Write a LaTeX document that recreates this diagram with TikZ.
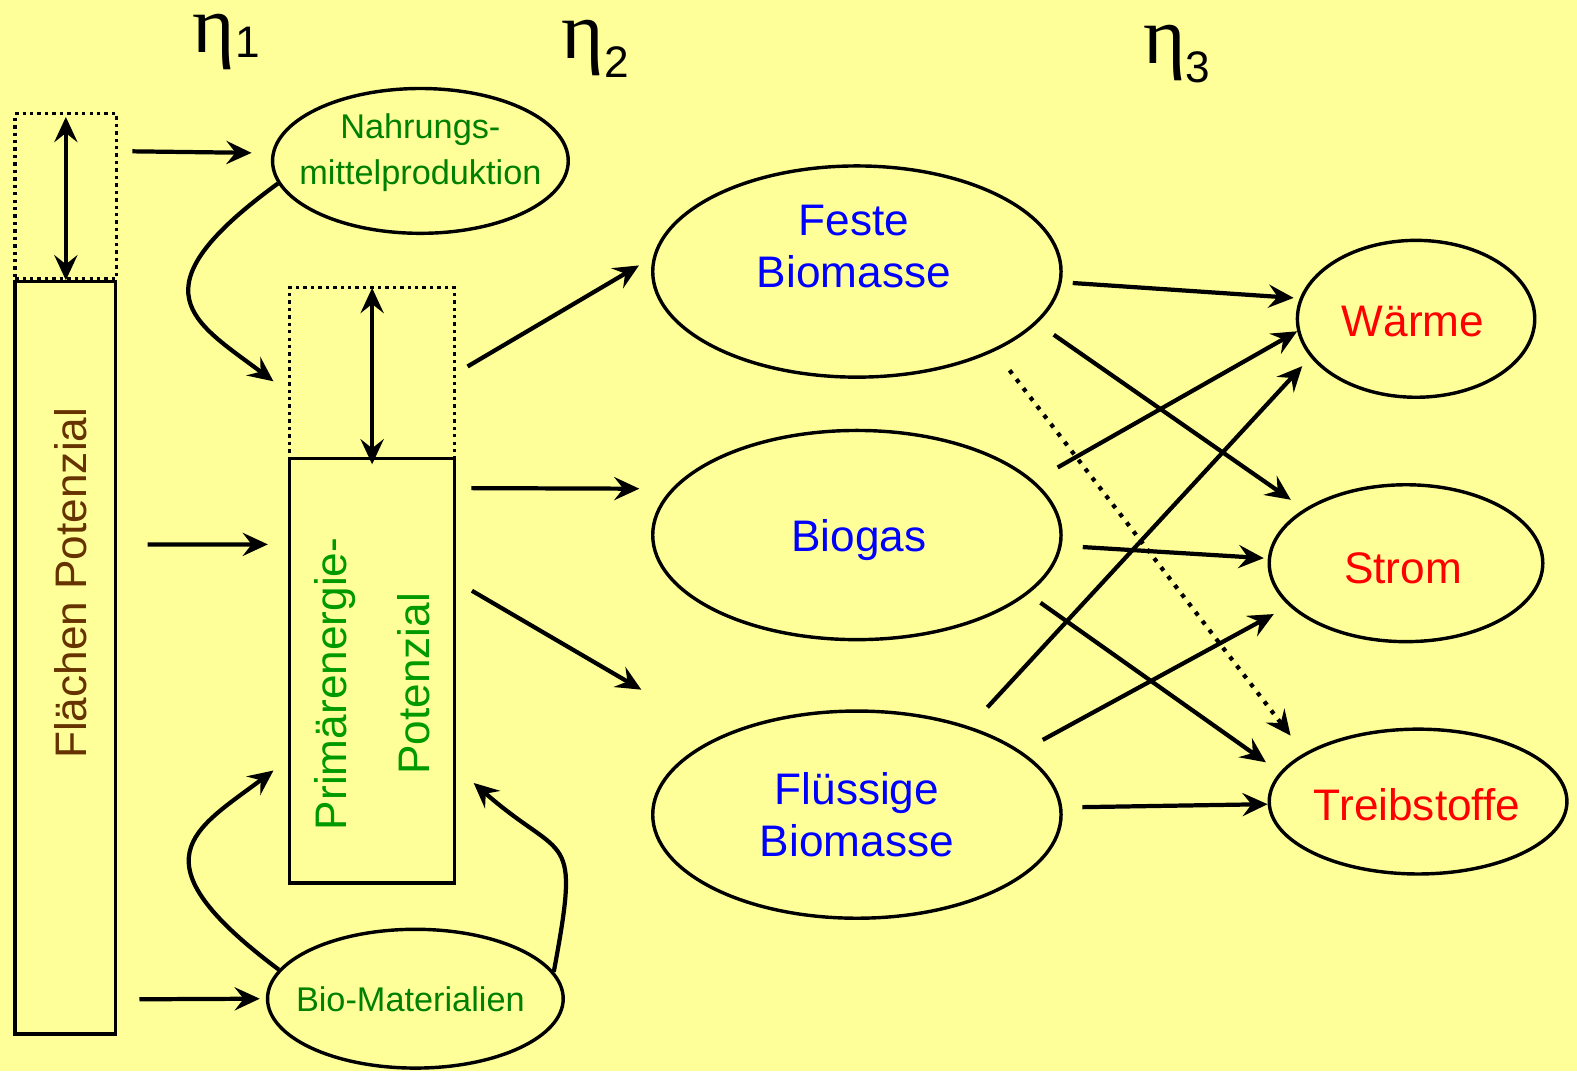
\documentclass[tikz,border=0pt]{standalone}
\usepackage{fontspec}
\setmainfont{Liberation Sans}
\newfontfamily\etafont{Liberation Serif}
\usetikzlibrary{arrows.meta,shapes.geometric,positioning}
\definecolor{PaleYellow}{RGB}{255,255,153}
\definecolor{LeafGreen}{RGB}{0,128,0}
\definecolor{GrassGreen}{RGB}{0,153,0}
\definecolor{SoilBrown}{RGB}{102,51,0}
\newcommand{\etasub}[2]{{\etafont\fontsize{23}{23}\selectfont η}\raisebox{#2}{\fontsize{12.5}{12.5}\selectfont #1}}

\begin{document}
\begin{tikzpicture}[x=0.1mm,y=-0.1mm,
  >={Stealth[length=2.5mm,width=2.3mm,inset=0.9mm]},
  flow/.style={->,line width=0.42mm},
  oval/.style={draw,ellipse,line width=0.34mm,inner sep=0pt},
  potbox/.style={draw,rectangle,line width=0.34mm,inner sep=0pt},
  gapbox/.style={draw,rectangle,line width=0.34mm,inner sep=0pt,dash pattern=on 0.34mm off 0.4mm},
  bigtxt/.style={inner sep=0pt,font=\fontsize{12.5}{14.8}\selectfont,align=center},
  smalltxt/.style={inner sep=0pt,font=\fontsize{9.7}{13}\selectfont,align=center}]
  \fill[PaleYellow] (0,0) rectangle (1568,1065);
  \useasboundingbox (0,0) rectangle (1568,1065);

  % efficiency labels
  \node[inner sep=0pt] (eta1) at (225,42) {\etasub{1}{-0.5mm}};
  \node[inner sep=0pt] (eta2) at (592,49) {\etasub{2}{-1.9mm}};
  \node[inner sep=0pt] (eta3) at (1170,54) {\etasub{3}{-1.9mm}};

  % potential columns
  \node[gapbox,minimum width=10.1mm,minimum height=16.4mm] (flaechengap) at (65.5,195) {};
  \node[potbox,minimum width=10mm,minimum height=74.8mm] (flaechen) at (65,654) {};
  \node[bigtxt,SoilBrown,rotate=90] (flaechentxt) at (70,580) {Flächen Potenzial};
  \node[gapbox,minimum width=16.4mm,minimum height=17mm] (primgap) at (370,371) {};
  \node[potbox,minimum width=16.4mm,minimum height=42.2mm] (primaer) at (370,667) {};
  \node[bigtxt,GrassGreen,rotate=90,font=\fontsize{12.5}{23.3}\selectfont] (primaertxt) at (370,680) {Primärenergie-\\Potenzial};

  % other uses
  \node[oval,minimum width=29.4mm,minimum height=14.4mm] (nahrung) at (418,160) {};
  \node[smalltxt,LeafGreen] (nahrungtxt) at (418,152) {Nahrungs-\\mittelproduktion};
  \node[oval,minimum width=29.4mm,minimum height=13.8mm] (biomat) at (413,993) {};
  \node[smalltxt,LeafGreen] (biomattxt) at (408,994) {Bio-Materialien};

  % energy carriers
  \node[oval,minimum width=40.6mm,minimum height=21mm] (feste) at (852,270) {};
  \node[bigtxt,blue] (festetxt) at (849,245) {Feste\\Biomasse};
  \node[oval,minimum width=40.6mm,minimum height=20.8mm] (biogas) at (852,532) {};
  \node[bigtxt,blue] (biogastxt) at (854,537) {Biogas};
  \node[oval,minimum width=40.6mm,minimum height=20.6mm] (fluessig) at (852,810) {};
  \node[bigtxt,blue] (fluessigtxt) at (852,810) {Flüssige\\Biomasse};

  % end uses
  \node[oval,minimum width=23.6mm,minimum height=15.6mm] (waerme) at (1408,317) {};
  \node[bigtxt,red] (waermetxt) at (1405,320) {Wärme};
  \node[oval,minimum width=27.2mm,minimum height=15.6mm] (strom) at (1398,560) {};
  \node[bigtxt,red] (stromtxt) at (1395,565) {Strom};
  \node[oval,minimum width=29.6mm,minimum height=14.4mm] (treib) at (1410,797) {};
  \node[bigtxt,red] (treibtxt) at (1409,800) {Treibstoffe};

  % shares
  \draw[<->,line width=0.42mm,shorten <=0.5mm] (flaechengap.north) -- (flaechengap.south);
  \draw[<->,line width=0.42mm,shorten <=0.2mm,shorten >=-0.4mm] (primgap.north) -- (primgap.south);

  % land to uses
  \draw[flow,shorten <=1.4mm,shorten >=2mm] ([yshift=-3.9mm]flaechengap.north east) -- (nahrung.177);
  \draw[flow,shorten <=3mm,shorten >=2mm] ([yshift=-26.3mm]flaechen.north east) -- ([yshift=-8.7mm]primaer.north west);
  \draw[flow,shorten <=2.2mm,shorten >=0.6mm] ([yshift=3.6mm]flaechen.south east) -- (biomat.west);
  \draw[flow,shorten >=1.8mm] (nahrung.189) .. controls +(-147,107) and +(-93,-70) .. ([yshift=-1.9mm]primgap.west);
  \draw[flow,shorten >=1.8mm] (biomat.168) .. controls +(-147,-110) and +(-93,70) .. ([yshift=-30.1mm]primaer.north west);
  \draw[flow,shorten >=2.3mm] (biomat.11) .. controls +(27,-145) and +(108,95) .. ([yshift=-30.9mm]primaer.north east);

  % primary energy to carriers
  \draw[flow,shorten <=1.3mm,shorten >=1.6mm] (primgap.east) -- (feste.176);
  \draw[flow,shorten <=1.5mm,shorten >=3.2mm] ([yshift=-3.1mm]primaer.north east) -- (biogas.166);
  \draw[flow,shorten <=1.8mm,shorten >=9.1mm] ([yshift=-12.4mm]primaer.north east) -- (fluessig.150);

  % carriers to end uses
  \draw[flow,shorten <=1.1mm,shorten >=0.6mm] (feste.-3) -- (waerme.170);
  \draw[flow,shorten <=2mm,shorten >=1.6mm] (feste.-16) -- (strom.152);
  \draw[flow,dotted,shorten <=2.4mm,shorten >=2.2mm] (feste.-30) -- (treib.157);
  \draw[flow,shorten <=2.7mm] (biogas.17) -- (waerme.186);
  \draw[flow,shorten <=2.1mm,shorten >=0.4mm] (biogas.-3) -- (strom.178);
  \draw[flow,shorten <=1.5mm,shorten >=1.7mm] (biogas.-19) -- (treib.168);
  \draw[flow,shorten <=2.6mm,shorten >=1.2mm] (fluessig.38) -- (waerme.200);
  \draw[flow,shorten <=2.4mm,shorten >=1.7mm] (fluessig.21) -- (strom.200);
  \draw[flow,shorten <=2mm] (fluessig.2) -- (treib.181);
\end{tikzpicture}
\end{document}
